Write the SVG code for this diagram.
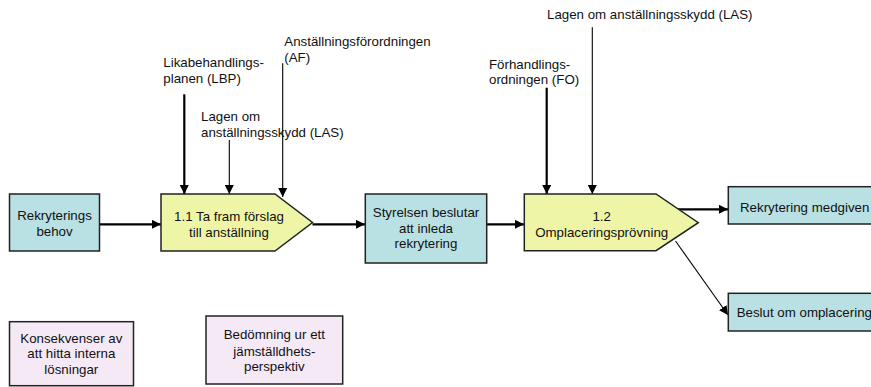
<svg xmlns="http://www.w3.org/2000/svg" width="871" height="387" viewBox="0 0 871 387">
<defs>
<style>
text{font-family:"Liberation Sans",Arial,sans-serif;font-size:13.3px;fill:#111}
.c{text-anchor:middle}
.teal{fill:#B9E0E2;stroke:#222;stroke-width:1.5}
.yel{fill:#EFF5A6;stroke:#222;stroke-width:1.5}
.pink{fill:#F6E9F6;stroke:#222;stroke-width:1.5}
.thick{stroke:#000;stroke-width:2.2;fill:none}
.thin{stroke:#000;stroke-width:1.1;fill:none}
</style>
<marker id="ah" viewBox="0 0 10 10" refX="10" refY="5" markerWidth="9" markerHeight="9" markerUnits="userSpaceOnUse" orient="auto"><path d="M0,0L10,5L0,10z" fill="#000"/></marker>
</defs>
<rect width="871" height="387" fill="#fff"/>
<g id="connectors">
<line class="thick" x1="100" y1="224.3" x2="161" y2="224.3" marker-end="url(#ah)"/>
<line class="thick" x1="312.5" y1="224.3" x2="365" y2="224.3" marker-end="url(#ah)"/>
<line class="thick" x1="487" y1="224.3" x2="524" y2="224.3" marker-end="url(#ah)"/>
<line class="thick" x1="675.5" y1="209.3" x2="728" y2="209.3" marker-end="url(#ah)"/>
<line class="thin" x1="675.5" y1="241" x2="728" y2="315" marker-end="url(#ah)"/>
<line class="thick" x1="184.3" y1="94.3" x2="184.3" y2="194" marker-end="url(#ah)"/>
<line class="thin" x1="229.3" y1="140" x2="229.3" y2="194" marker-end="url(#ah)"/>
<line class="thin" x1="282.7" y1="63.3" x2="282.7" y2="197" marker-end="url(#ah)"/>
<line class="thick" x1="546.7" y1="87.7" x2="546.7" y2="194" marker-end="url(#ah)"/>
<line class="thin" x1="592.3" y1="27.3" x2="592.3" y2="194" marker-end="url(#ah)"/>
</g>
<g id="lbl-lbp"><text x="163.3" y="66.7">Likabehandlings-</text><text x="163.3" y="83">planen (LBP)</text></g>
<g id="lbl-las1"><text x="201" y="121">Lagen om</text><text x="201" y="136.7">anställningsskydd (LAS)</text></g>
<g id="lbl-af"><text x="284.3" y="46.3">Anställningsförordningen</text><text x="284.3" y="62">(AF)</text></g>
<g id="lbl-fo"><text x="489" y="69">Förhandlings-</text><text x="489" y="84.3">ordningen (FO)</text></g>
<g id="lbl-las2"><text x="547" y="19">Lagen om anställningsskydd (LAS)</text></g>
<g id="n-behov"><rect class="teal" x="9.5" y="194" width="90" height="57"/><text class="c" x="54.5" y="220">Rekryterings</text><text class="c" x="54.5" y="236">behov</text></g>
<g id="n-11"><polygon class="yel" points="161,194 275,194 312.5,222.5 275,251 161,251"/><text class="c" x="229" y="220.7">1.1 Ta fram förslag</text><text class="c" x="229" y="237">till anställning</text></g>
<g id="n-styrelsen"><rect class="teal" x="365.3" y="194" width="121.4" height="69"/><text class="c" x="426" y="217">Styrelsen beslutar</text><text class="c" x="426" y="232.5">att inleda</text><text class="c" x="426" y="248">rekrytering</text></g>
<g id="n-12"><polygon class="yel" points="524.3,194 656,194 698.3,222.7 656,250.7 524.3,250.7"/><text class="c" x="601.7" y="220.7">1.2</text><text class="c" x="601.7" y="236.7">Omplaceringsprövning</text></g>
<g id="n-medgiven"><rect class="teal" x="728.3" y="186.7" width="150" height="37.3"/><text x="740" y="211.7">Rekrytering medgiven</text></g>
<g id="n-omplacering"><rect class="teal" x="728.3" y="293.3" width="150" height="37.7"/><text x="736.7" y="316.7">Beslut om omplacering</text></g>
<g id="n-konsekvenser"><rect class="pink" x="9.5" y="321.7" width="124" height="64"/><text class="c" x="71.3" y="342.7">Konsekvenser av</text><text class="c" x="71.3" y="358.3">att hitta interna</text><text class="c" x="71.3" y="374.3">lösningar</text></g>
<g id="n-bedomning"><rect class="pink" x="206" y="316" width="136.7" height="68"/><text class="c" x="274.3" y="339.3">Bedömning ur ett</text><text class="c" x="274.3" y="356">jämställdhets-</text><text class="c" x="274.3" y="371">perspektiv</text></g>
</svg>
